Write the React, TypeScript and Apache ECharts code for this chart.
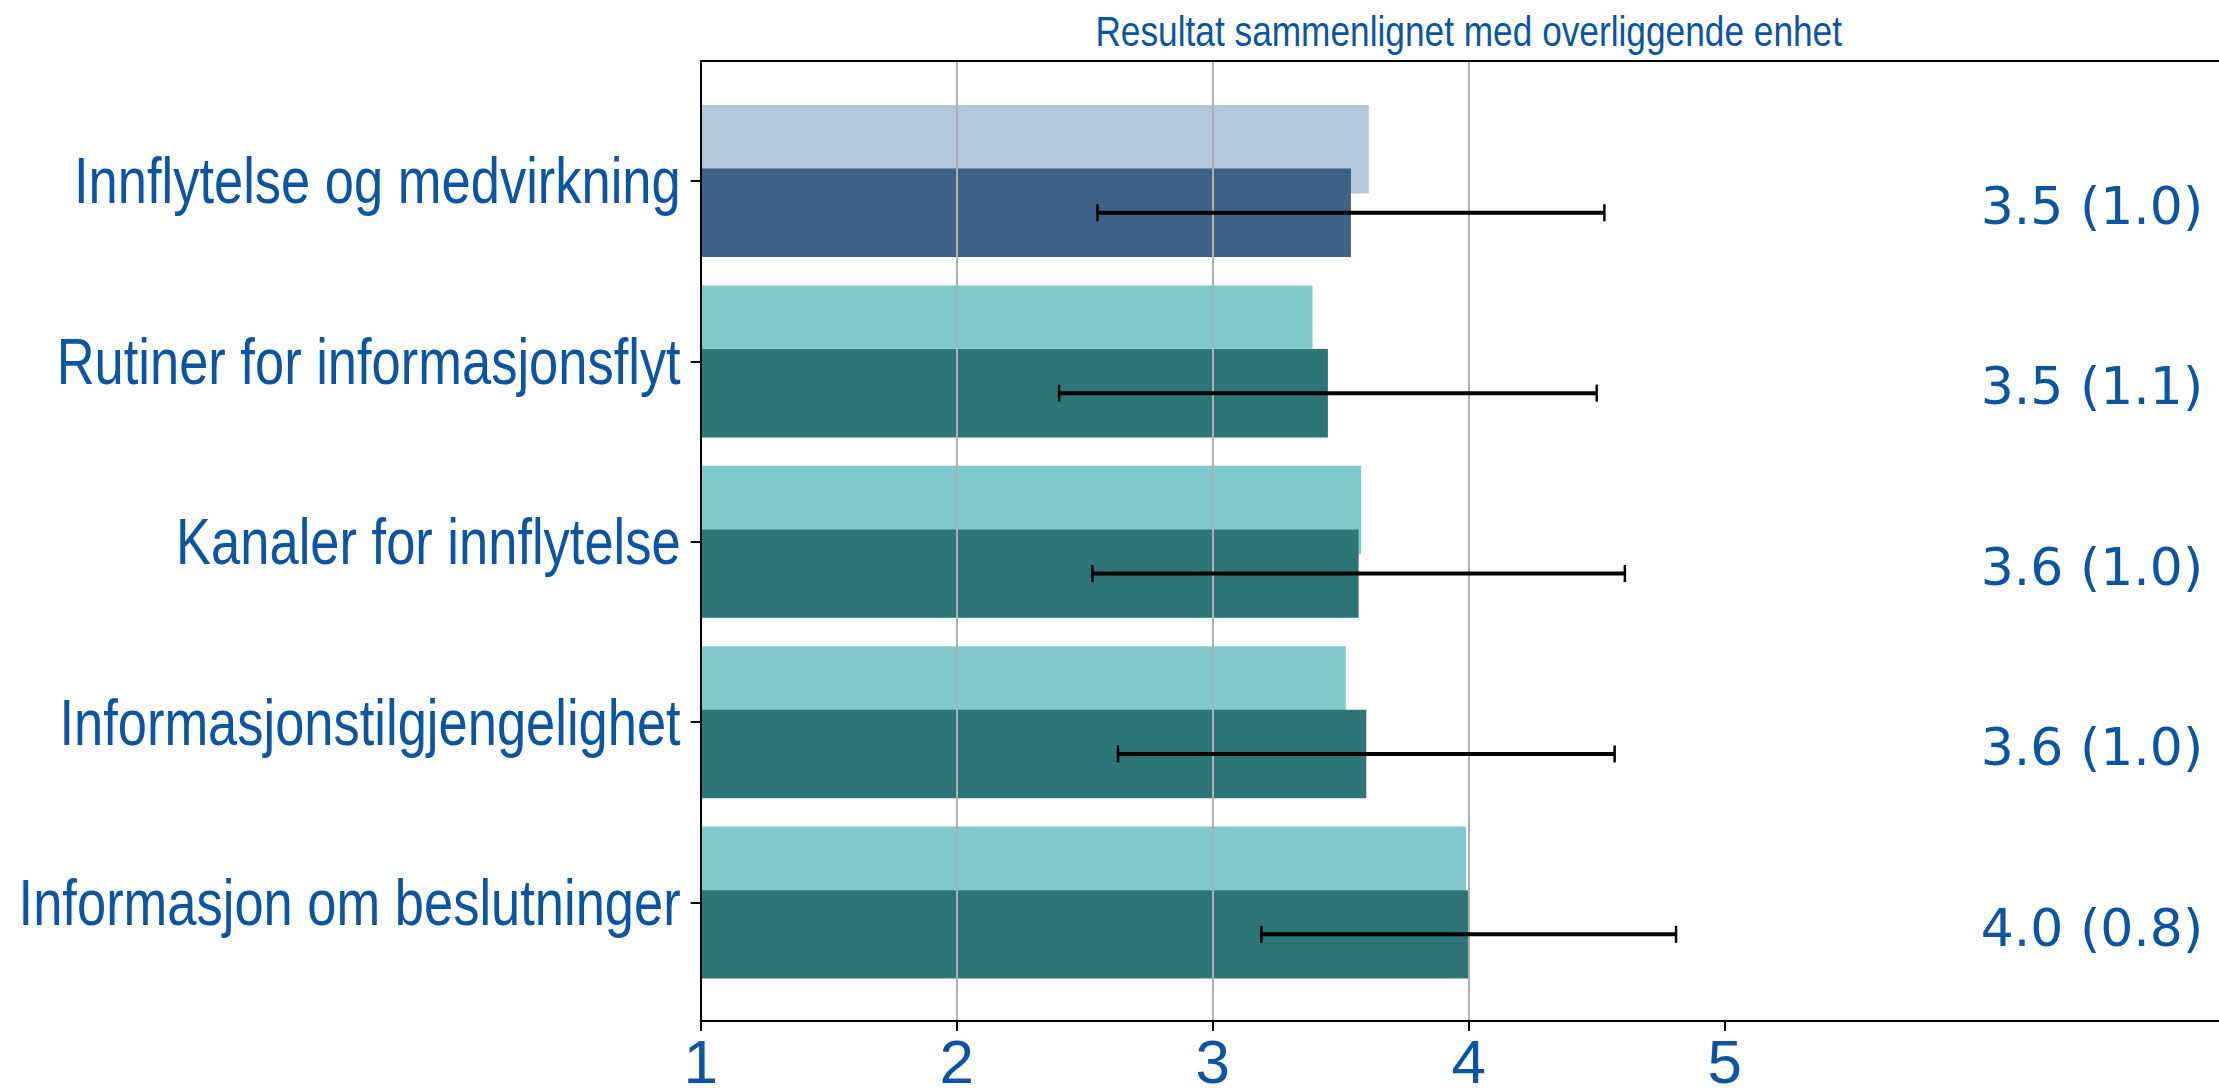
import React, { useEffect, useRef } from "react";
import * as echarts from "echarts";

const categories = [
  "Innflytelse og medvirkning",
  "Rutiner for informasjonsflyt",
  "Kanaler for innflytelse",
  "Informasjonstilgjengelighet",
  "Informasjon om beslutninger",
];
const comparisonValues = [3.61, 3.39, 3.58, 3.52, 3.99];
const meanValues = [3.54, 3.45, 3.57, 3.6, 4.0];
const sdValues = [0.99, 1.05, 1.04, 0.97, 0.81];
const valueLabels = ["3.5 (1.0)", "3.5 (1.1)", "3.6 (1.0)", "3.6 (1.0)", "4.0 (0.8)"];
const xTicks = [1, 2, 3, 4, 5];
const xMin = 1;
const xMax = 7;
const labelX = 6;
const titleText = "Resultat sammenlignet med overliggende enhet";

const lightColors = ["#B3C7DC", "#80CACE", "#80CACE", "#80CACE", "#80CACE"];
const darkColors = ["#3E6188", "#2E7577", "#2E7577", "#2E7577", "#2E7577"];

const TEXT_COLOR = "#0D55A3";
const SANS = "'Liberation Sans', Arial, sans-serif";
const NARROW_SCALE = 0.82;

const W = 2219;
const H = 1088;
const PLOT_LEFT = 700.7;
const PLOT_WIDTH = 1536;
const FRAME_TOP = 61;
const FRAME_HEIGHT = 960;
const BAND_TOP = 90.8;
const BAND_HEIGHT = 902;

export default function App() {
  const ref = useRef<HTMLDivElement>(null);

  useEffect(() => {
    if (!ref.current) return;
    const chart = echarts.init(ref.current, undefined, { renderer: "svg" });

    const option: any = {
      animation: false,
      backgroundColor: "#ffffff",
      grid: [
        {
          left: PLOT_LEFT,
          top: FRAME_TOP,
          width: PLOT_WIDTH,
          height: FRAME_HEIGHT,
          containLabel: false,
          outerBoundsMode: "none",
        },
        {
          left: PLOT_LEFT,
          top: BAND_TOP,
          width: PLOT_WIDTH,
          height: BAND_HEIGHT,
          containLabel: false,
          outerBoundsMode: "none",
        },
      ],
      xAxis: [
        {
          type: "value",
          gridIndex: 0,
          min: xMin,
          max: xMax,
          interval: 1,
          position: "bottom",
          z: 3,
          axisLine: { show: true, onZero: false, lineStyle: { color: "#000", width: 2 } },
          axisTick: {
            show: true,
            customValues: xTicks,
            length: 10,
            lineStyle: { color: "#000", width: 2 },
          },
          axisLabel: {
            customValues: xTicks,
            fontSize: 62,
            color: TEXT_COLOR,
            fontFamily: SANS,
            margin: 9,
          },
          splitLine: {
            show: true,
            showMinLine: false,
            showMaxLine: false,
            lineStyle: { color: "#b0b0b0", width: 2 },
          },
        },
        {
          type: "value",
          gridIndex: 0,
          min: xMin,
          max: xMax,
          position: "top",
          z: 3,
          axisLine: { show: true, onZero: false, lineStyle: { color: "#000", width: 2 } },
          axisTick: { show: false },
          axisLabel: { show: false },
          splitLine: { show: false },
        },
        {
          type: "value",
          gridIndex: 1,
          min: xMin,
          max: xMax,
          show: false,
        },
      ],
      yAxis: [
        {
          type: "value",
          gridIndex: 0,
          min: 0,
          max: 1,
          z: 3,
          axisLine: { show: true, onZero: false, lineStyle: { color: "#000", width: 2 } },
          axisTick: { show: false },
          axisLabel: { show: false },
          splitLine: { show: false },
        },
        {
          type: "category",
          gridIndex: 1,
          data: categories,
          inverse: true,
          z: 3,
          axisLine: { show: false },
          axisTick: {
            show: true,
            alignWithLabel: true,
            length: 10,
            lineStyle: { color: "#000", width: 2 },
          },
          axisLabel: { show: false },
          splitLine: { show: false },
        },
      ],
      series: [
        {
          type: "bar",
          name: "Overliggende enhet",
          xAxisIndex: 2,
          yAxisIndex: 1,
          barWidth: "49%",
          barGap: "-28%",
          z: 1,
          data: comparisonValues.map((v, i) => ({ value: v, itemStyle: { color: lightColors[i] } })),
        },
        {
          type: "bar",
          name: "Enhet",
          xAxisIndex: 2,
          yAxisIndex: 1,
          barWidth: "49%",
          barGap: "-28%",
          z: 2,
          data: meanValues.map((v, i) => ({ value: v, itemStyle: { color: darkColors[i] } })),
        },
        {
          type: "custom",
          name: "errorbar",
          xAxisIndex: 2,
          yAxisIndex: 1,
          z: 5,
          silent: true,
          encode: { x: [1, 2], y: 0 },
          data: meanValues.map((m, i) => [i, m - sdValues[i], m + sdValues[i]]),
          renderItem: (params: any, api: any) => {
            const idx = api.value(0);
            const lo = api.coord([api.value(1), idx]);
            const hi = api.coord([api.value(2), idx]);
            const band = api.size([0, 1])[1];
            const y = lo[1] + band * 0.176;
            const cap = 8.5;
            const style = { stroke: "#000", lineWidth: 4 };
            const capStyle = { stroke: "#000", lineWidth: 2.5 };
            return {
              type: "group",
              children: [
                { type: "line", shape: { x1: lo[0], y1: y, x2: hi[0], y2: y }, style },
                { type: "line", shape: { x1: lo[0], y1: y - cap, x2: lo[0], y2: y + cap }, style: capStyle },
                { type: "line", shape: { x1: hi[0], y1: y - cap, x2: hi[0], y2: y + cap }, style: capStyle },
              ],
            };
          },
        },
        {
          type: "custom",
          name: "categoryLabels",
          xAxisIndex: 2,
          yAxisIndex: 1,
          z: 5,
          silent: true,
          clip: false,
          encode: { x: 0, y: 1 },
          data: categories.map((_, i) => [xMin, i]),
          renderItem: (params: any, api: any) => {
            const p = api.coord([api.value(0), api.value(1)]);
            return {
              type: "text",
              x: p[0] - 20,
              y: p[1],
              scaleX: NARROW_SCALE,
              style: {
                text: categories[params.dataIndex],
                fill: TEXT_COLOR,
                fontSize: 64,
                fontFamily: SANS,
                align: "right",
                verticalAlign: "middle",
              },
            };
          },
        },
        {
          type: "custom",
          name: "valueLabels",
          xAxisIndex: 2,
          yAxisIndex: 1,
          z: 5,
          silent: true,
          clip: false,
          encode: { x: 0, y: 1 },
          data: valueLabels.map((_, i) => [labelX, i]),
          renderItem: (params: any, api: any) => {
            const p = api.coord([api.value(0), api.value(1)]);
            const band = api.size([0, 1])[1];
            return {
              type: "text",
              x: p[0],
              y: p[1] + band * 0.139,
              style: {
                text: valueLabels[params.dataIndex],
                fill: TEXT_COLOR,
                fontSize: 52,
                fontFamily: "'DejaVu Sans'",
                align: "left",
                verticalAlign: "middle",
              },
            };
          },
        },
      ],
      graphic: [
        {
          type: "text",
          x: PLOT_LEFT + PLOT_WIDTH / 2,
          y: 31,
          scaleX: NARROW_SCALE,
          style: {
            text: titleText,
            fill: TEXT_COLOR,
            fontSize: 43,
            fontFamily: SANS,
            align: "center",
            verticalAlign: "middle",
          },
        },
      ],
    };

    chart.setOption(option);
    return () => chart.dispose();
  }, []);

  return (
    <div
      ref={ref}
      style={{ position: "fixed", left: 0, top: 0, width: W, height: H, background: "#fff" }}
    />
  );
}
